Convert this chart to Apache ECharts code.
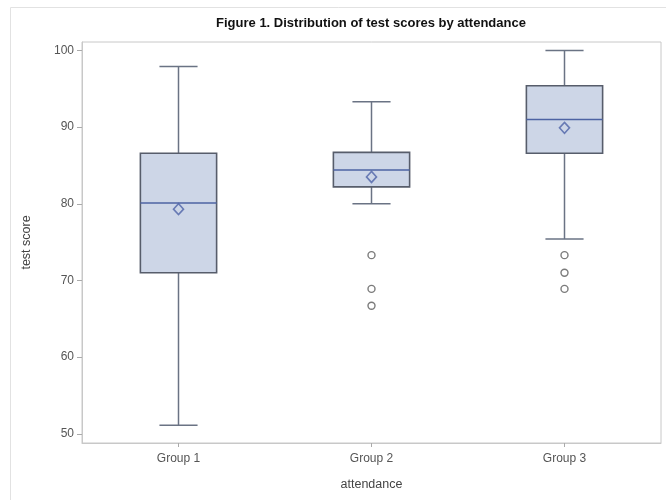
<!DOCTYPE html>
<html>
<head>
<meta charset="utf-8">
<script src="https://cdn.jsdelivr.net/npm/echarts@6/dist/echarts.min.js"></script>
<style>
html,body{margin:0;padding:0;background:#fff;}
#chart{width:666px;height:500px;}
</style>
</head>
<body>
<div id="chart"></div>
<script>
var groups = ['Group 1', 'Group 2', 'Group 3'];
var whiskerLow = [51.1, 80.0, 75.4];
var q1 = [71.0, 82.2, 86.6];
var median = [80.1, 84.4, 91.0];
var q3 = [86.6, 86.7, 95.4];
var whiskerHigh = [97.9, 93.3, 100.0];
var means = [79.3, 83.5, 89.9];
var outlierGroup = ['Group 2', 'Group 2', 'Group 2', 'Group 3', 'Group 3', 'Group 3'];
var outlierValue = [73.3, 68.9, 66.7, 73.3, 71.0, 68.9];
var yTicks = [50, 60, 70, 80, 90, 100];

var boxData = groups.map(function (g, i) {
  return [i, whiskerLow[i], q1[i], median[i], q3[i], whiskerHigh[i]];
});
var meanData = groups.map(function (g, i) { return [g, means[i]]; });
var outlierData = outlierGroup.map(function (g, i) { return [g, outlierValue[i]]; });

function renderBox(params, api) {
  var x = api.value(0);
  var pLow = api.coord([x, api.value(1)]);
  var pQ1 = api.coord([x, api.value(2)]);
  var pMed = api.coord([x, api.value(3)]);
  var pQ3 = api.coord([x, api.value(4)]);
  var pHigh = api.coord([x, api.value(5)]);
  var band = api.size([1, 0])[0];
  var w = band * 0.395;
  var cw = w / 2;
  var cx = pMed[0];
  var whiskerStyle = { stroke: '#6a7384', lineWidth: 1.5 };
  return {
    type: 'group',
    children: [
      { type: 'line', shape: { x1: cx, y1: pQ3[1], x2: cx, y2: pHigh[1] }, style: whiskerStyle },
      { type: 'line', shape: { x1: cx, y1: pQ1[1], x2: cx, y2: pLow[1] }, style: whiskerStyle },
      { type: 'line', shape: { x1: cx - cw / 2, y1: pHigh[1], x2: cx + cw / 2, y2: pHigh[1] }, style: whiskerStyle },
      { type: 'line', shape: { x1: cx - cw / 2, y1: pLow[1], x2: cx + cw / 2, y2: pLow[1] }, style: whiskerStyle },
      { type: 'rect', shape: { x: cx - w / 2, y: pQ3[1], width: w, height: pQ1[1] - pQ3[1] },
        style: { fill: '#cdd6e7', stroke: '#575d6b', lineWidth: 1.6 } },
      { type: 'line', shape: { x1: cx - w / 2, y1: pMed[1], x2: cx + w / 2, y2: pMed[1] },
        style: { stroke: '#4d63a3', lineWidth: 1.6 } }
    ]
  };
}

var chart = echarts.init(document.getElementById('chart'), null, { renderer: 'canvas' });
chart.setOption({
  animation: false,
  backgroundColor: '#ffffff',
  textStyle: { fontFamily: 'Liberation Sans, Arial, sans-serif' },
  graphic: [{
    type: 'rect', silent: true, z: -10,
    shape: { x: 10.5, y: 7.5, width: 700, height: 600 },
    style: { fill: 'none', stroke: '#e2e2e2', lineWidth: 1 }
  }],
  title: {
    text: 'Figure 1. Distribution of test scores by attendance',
    left: 366, top: 12, textAlign: 'center',
    textStyle: { fontSize: 13, fontWeight: 'bold', color: '#111', fontFamily: 'Liberation Sans, Arial, sans-serif' }
  },
  grid: { left: 82, right: 5, top: 42, bottom: 57, show: true, borderColor: '#c8c8c8', borderWidth: 1 },
  xAxis: {
    type: 'category',
    data: groups,
    name: 'attendance',
    nameLocation: 'middle',
    nameGap: 35,
    nameTextStyle: { fontSize: 12.5, color: '#444' },
    axisLine: { show: true, lineStyle: { color: '#c8c8c8' } },
    axisTick: { show: true, alignWithLabel: true, length: 4, lineStyle: { color: '#aaa' } },
    axisLabel: { fontSize: 12, color: '#555', margin: 10 },
    splitLine: { show: false }
  },
  yAxis: {
    type: 'value',
    min: 48.8, max: 101.1,
    name: 'test score',
    nameLocation: 'middle',
    nameGap: 49,
    nameTextStyle: { fontSize: 12.5, color: '#444' },
    axisLine: { show: true, lineStyle: { color: '#c8c8c8' } },
    axisTick: { show: true, length: 5, lineStyle: { color: '#aaa' }, customValues: yTicks },
    axisLabel: { fontSize: 12, color: '#555', margin: 8, customValues: yTicks },
    splitLine: { show: false }
  },
  series: [
    {
      type: 'custom',
      renderItem: renderBox,
      encode: { x: 0, y: [1, 2, 3, 4, 5] },
      data: boxData,
      z: 2
    },
    {
      type: 'scatter',
      data: meanData,
      symbol: 'diamond',
      symbolSize: [10, 11],
      itemStyle: { color: '#cdd6e7', borderColor: '#4d63a8', borderWidth: 1.6 },
      z: 5
    },
    {
      type: 'scatter',
      data: outlierData,
      symbol: 'circle',
      symbolSize: 7,
      itemStyle: { color: '#ffffff', borderColor: '#5a5a5a', borderWidth: 1.4 },
      z: 5
    }
  ]
});
</script>
</body>
</html>
